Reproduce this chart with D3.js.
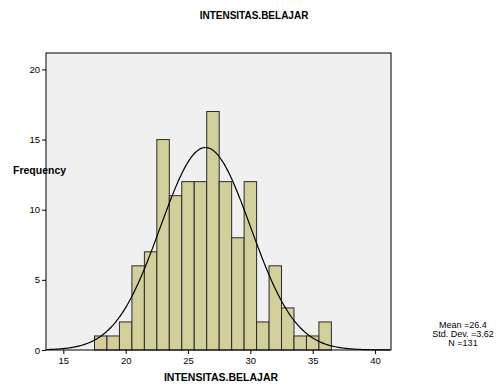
<!DOCTYPE html>
<html>
<head>
<meta charset="utf-8">
<script src="https://cdn.jsdelivr.net/npm/d3@7"></script>
<style>
  body { margin: 0; background: #fff; }
  text { font-family: "Liberation Sans", Arial, sans-serif; }
</style>
</head>
<body>
<div id="chart"></div>
<script>
// histogram bins (centre value) and counts
const binCenters = [18, 19, 20, 21, 22, 23, 24, 25, 26, 27, 28, 29, 30, 31, 32, 33, 34, 35, 36];
const counts     = [1, 1, 2, 6, 7, 15, 11, 12, 12, 17, 12, 8, 12, 2, 6, 3, 1, 1, 2];
const xTicks = [15, 20, 25, 30, 35, 40];
const yTicks = [0, 5, 10, 15, 20];
const mean = 26.4, stdDev = 3.62, n = 131;
const title = "INTENSITAS.BELAJAR";

const width = 497, height = 385;
const margin = { left: 46, top: 53, right: 106, bottom: 35 };

const svg = d3.select("#chart").append("svg")
  .attr("width", width)
  .attr("height", height);

const x = d3.scaleLinear()
  .domain([13.61, 41.28])
  .range([margin.left, width - margin.right]);

const y = d3.scaleLinear()
  .domain([0, 21.17])
  .range([height - margin.bottom, margin.top]);

// plot background
svg.append("rect")
  .attr("x", margin.left)
  .attr("y", margin.top)
  .attr("width", width - margin.left - margin.right)
  .attr("height", height - margin.top - margin.bottom)
  .attr("fill", "#f0f0f0");

// bars
const bins = binCenters.map((c, i) => ({ c: c, v: counts[i] }));
svg.selectAll("rect.bar")
  .data(bins)
  .enter()
  .append("rect")
  .attr("class", "bar")
  .attr("x", d => x(d.c - 0.5))
  .attr("y", d => y(d.v))
  .attr("width", d => x(d.c + 0.5) - x(d.c - 0.5))
  .attr("height", d => y(0) - y(d.v))
  .attr("fill", "#d3cf9b")
  .attr("stroke", "#2a2a2a")
  .attr("stroke-width", 1);

// normal curve, scaled to counts (bin width 1)
const curve = d3.range(13.61, 41.29, 0.1).map(v => {
  const z = (v - mean) / stdDev;
  return [v, n / (stdDev * Math.sqrt(2 * Math.PI)) * Math.exp(-0.5 * z * z)];
});
svg.append("path")
  .datum(curve)
  .attr("d", d3.line().x(d => x(d[0])).y(d => y(d[1])).curve(d3.curveBasis))
  .attr("fill", "none")
  .attr("stroke", "#000")
  .attr("stroke-width", 1.2);

// frame
svg.append("rect")
  .attr("x", margin.left)
  .attr("y", margin.top)
  .attr("width", width - margin.left - margin.right)
  .attr("height", height - margin.top - margin.bottom)
  .attr("fill", "none")
  .attr("stroke", "#000")
  .attr("stroke-width", 1);

// axes
const xAxis = svg.append("g")
  .attr("transform", `translate(0,${height - margin.bottom})`)
  .call(d3.axisBottom(x).tickValues(xTicks).tickSize(4).tickPadding(3));
const yAxis = svg.append("g")
  .attr("transform", `translate(${margin.left},0)`)
  .call(d3.axisLeft(y).tickValues(yTicks).tickSize(4).tickPadding(2));
[xAxis, yAxis].forEach(g => {
  g.select(".domain").remove();
  g.selectAll("line").attr("stroke", "#000");
  g.selectAll("text")
    .style("font-family", "'Liberation Sans', Arial, sans-serif")
    .style("font-size", "9.5px")
    .attr("fill", "#000");
});

// titles
svg.append("text")
  .attr("x", 254).attr("y", 19)
  .attr("text-anchor", "middle")
  .style("font-size", "10px").style("font-weight", "bold")
  .text(title);

svg.append("text")
  .attr("x", 221).attr("y", 381)
  .attr("text-anchor", "middle")
  .style("font-size", "10.5px").style("font-weight", "bold")
  .text(title);

svg.append("text")
  .attr("x", 13).attr("y", 174)
  .style("font-size", "10.5px").style("font-weight", "bold")
  .text("Frequency");

// stats legend
const stats = ["Mean =" + mean, "Std. Dev. =" + stdDev, "N =" + n];
svg.selectAll("text.stat")
  .data(stats)
  .enter()
  .append("text")
  .attr("class", "stat")
  .attr("x", 463)
  .attr("y", (d, i) => 328 + i * 9)
  .attr("text-anchor", "middle")
  .style("font-size", "9px")
  .text(d => d);
</script>
</body>
</html>
